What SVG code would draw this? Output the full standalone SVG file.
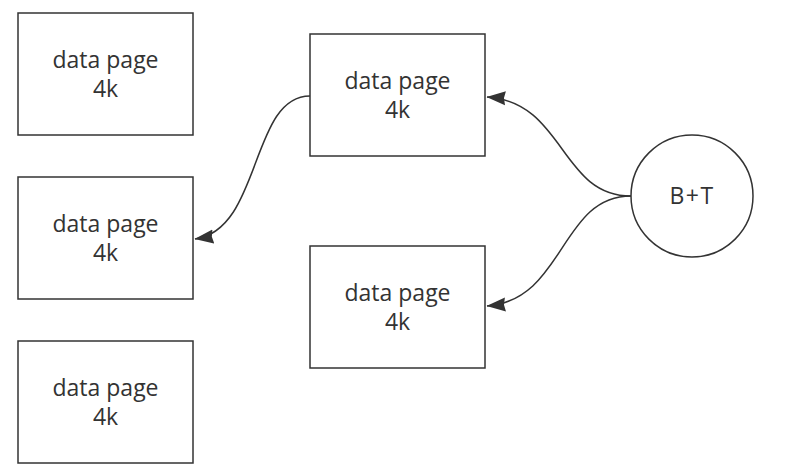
<svg xmlns="http://www.w3.org/2000/svg" width="785" height="472" viewBox="0 0 785 472">
<style>
.box{fill:#fff;stroke:#333;stroke-width:1.5}
.t{font-family:"Open Sans","Noto Sans",sans-serif;font-size:23px;fill:#333;text-anchor:middle}
.edge{fill:none;stroke:#333;stroke-width:1.5}
</style>
<defs>
<marker id="arr" viewBox="0 0 19 15" refX="18.5" refY="7.5" markerWidth="19" markerHeight="15" markerUnits="userSpaceOnUse" orient="auto">
<path d="M0,0.5 L19,7.5 L0,14.5 L1.5,7.5 Z" fill="#333"/>
</marker>
</defs>
<rect width="785" height="472" fill="#fff"/>
<g id="connectors">
<path class="edge" d="M310,96 C250,96 262,230 195,239" marker-end="url(#arr)"/>
<path class="edge" d="M631,196 C560,196 565,102 487,97" marker-end="url(#arr)"/>
<path class="edge" d="M631,196 C560,196 565,300 487,306" marker-end="url(#arr)"/>
</g>
<g id="n1"><rect class="box" x="18" y="13" width="175" height="122"/><text class="t" x="105.5" y="68">data page</text><text class="t" x="105.5" y="97">4k</text></g>
<g id="n2"><rect class="box" x="18" y="177" width="175" height="122"/><text class="t" x="105.5" y="232">data page</text><text class="t" x="105.5" y="261">4k</text></g>
<g id="n3"><rect class="box" x="18" y="341" width="175" height="122"/><text class="t" x="105.5" y="396">data page</text><text class="t" x="105.5" y="425">4k</text></g>
<g id="n4"><rect class="box" x="310" y="34" width="175" height="122"/><text class="t" x="397.5" y="89">data page</text><text class="t" x="397.5" y="118">4k</text></g>
<g id="n5"><rect class="box" x="310" y="246" width="175" height="122"/><text class="t" x="397.5" y="301">data page</text><text class="t" x="397.5" y="330">4k</text></g>
<g id="n6"><circle class="box" cx="692" cy="196" r="61"/><text class="t" x="692" y="204" letter-spacing="1.5">B+T</text></g>
</svg>
